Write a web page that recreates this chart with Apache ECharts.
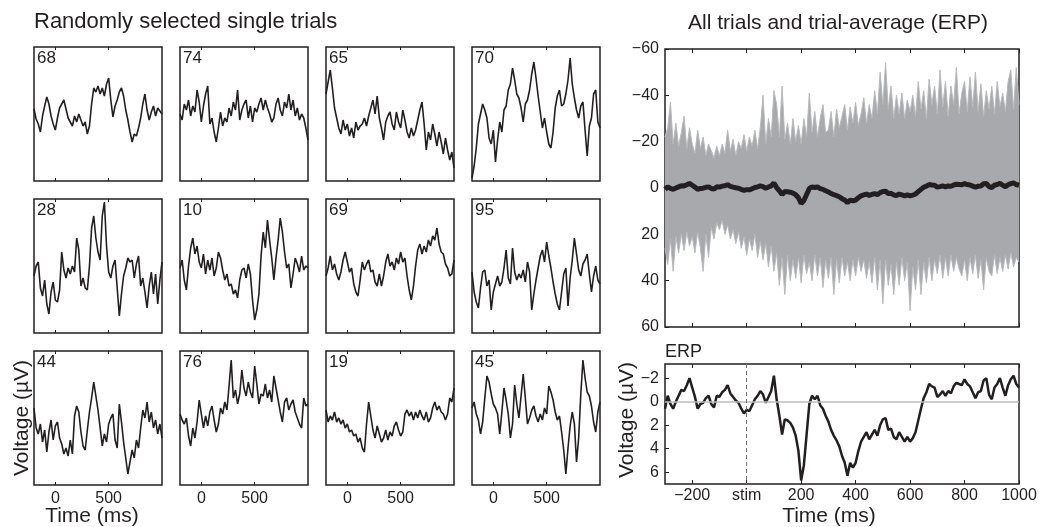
<!DOCTYPE html>
<html>
<head>
<meta charset="utf-8">
<script src="https://cdn.jsdelivr.net/npm/echarts@6/dist/echarts.min.js"></script>
<style>
  html, body { margin: 0; padding: 0; background: #fff; }
  #chart { width: 1043px; height: 527px; }
</style>
</head>
<body>
<div id="chart"></div>
<script>
// ---- single trials (µV), sampled every 20 ms from -200 ms ----
const trialStart = -200;
const trialStep = 20;

const trial68 = [-5,5,10,18,2,-8,-17,-10,2,10, 16,4,-6,-10,-14,-5,4,8,12,2, 8,0,6,12,8,20,12,-10,-26,-22,
  -28,-20,-26,-18,-30,-36,-14,3,-8,-14, -22,-26,-18,-4,6,18,28,20,22,14, 4,-10,-20,-4,6,-2,-8,2,-6,-3, 0];
const trial74 = [0,6,-10,-4,-14,2,-8,-2,-24,-12, 8,-8,-20,-28,10,4,18,28,14,-2, 12,4,8,-6,2,-12,-4,-24,6,-4,
  -10,-14,4,-8,8,-6,-2,-10,-16,-4, -14,-6,0,8,4,-10,-16,-4,2,-12, -6,-20,-4,-14,2,-6,6,0,4,14, 26];
const trial65 = [-20,-32,-44,-26,-6,4,14,20,6,16, 10,22,14,24,8,16,12,10,4,12, 2,-6,-14,0,-18,4,14,26,8,2,
  -2,10,16,-2,8,14,-4,6,18,24, 14,22,16,6,-4,-12,10,36,18,26, 10,20,32,18,28,40,24,36,46,38, 54];
const trial70 = [64,52,34,10,0,-10,-4,4,24,30, 16,48,26,8,18,-4,-8,-24,-30,-46, -34,-20,-16,-6,8,-10,-14,-24,-40,-52,
  -36,-18,-2,14,4,18,30,34,18,-6, -18,-24,-8,-10,-20,-34,-56,-30,-16,-4, 4,-8,-12,16,42,12,4,-20,-24,8, 14];
const trial28 = [10,0,-4,22,30,14,38,48,26,16, 34,36,24,-14,4,12,2,8,0,6, -28,-16,20,12,22,24,0,-38,-50,-28,
  -14,-6,-50,-64,-20,6,12,0,-6,22, 50,28,10,2,-8,-4,-6,12,-2,-10, 20,12,26,42,20,6,28,8,38,14, -4];
const trial10 = [2,-6,14,24,0,-18,-28,-12,-20,-4, 2,-12,8,-6,4,-8,10,2,-14,-8, 4,14,8,20,18,28,24,32,14,4,
  2,12,-2,8,34,54,44,28,-10,-34, -18,-46,-26,-8,14,-8,-26,-48,-34,-14, 2,-2,22,8,-8,-2,6,-10,4,0, 2];
const trial69 = [10,2,-10,4,-2,8,14,6,-6,-14, -4,6,2,18,26,30,14,-4,4,-2, -6,6,4,16,20,8,20,10,-4,-12,
  0,-4,4,-8,-2,-14,-4,-8,10,24, 34,20,0,-16,-22,-12,-20,-14,-26,-20, -30,-26,-38,-22,-14,-12,-2,2,10,8, -6];
const trial95 = [6,26,36,42,22,6,4,20,14,44, 26,18,10,20,16,2,-16,12,18,-18, 6,14,8,12,4,16,-4,6,44,28,
  14,2,-10,-16,-4,-24,-10,2,16,28, 38,44,26,8,2,40,12,-6,-28,-12, 4,10,-2,-6,-12,8,26,10,0,14, 18];
const trial44 = [-10,10,16,6,24,12,34,14,2,22, 8,4,20,26,36,30,38,22,36,-2, -12,-6,14,28,32,12,-6,-20,-36,-22,
  -8,10,28,16,24,6,0,-4,22,30, -14,4,24,40,56,44,32,40,22,30, 10,-8,0,-16,4,-6,10,2,16,6, 20];
const trial76 = [-4,2,6,0,18,28,10,20,4,-18, -4,10,-2,8,-6,-12,2,14,6,-10, -4,-16,-8,-32,-58,-20,-28,-14,-24,-48,
  -30,-22,-36,-26,-20,-52,-34,-14,-24,-22, -34,-20,-28,-16,-42,-30,-18,-6,4,-16, -20,-8,-14,-18,-6,0,6,10,-20,-12, -14];
const trial19 = [-8,4,-2,2,-6,4,0,6,2,10, 6,14,12,18,16,24,20,30,34,6, -16,-2,12,20,8,16,24,20,12,22,
  14,18,8,4,12,18,14,-4,-8,-2, -6,2,-6,0,-8,-2,2,-6,4,0, -10,-16,-8,-12,-6,-4,2,-4,-20,-16, -30];
const trial45 = [-10,-16,-4,2,16,4,-20,-42,-36,-24, -14,-10,-4,16,-6,-30,-18,-4,20,6, -33,-14,0,-22,-44,-20,6,0,-8,-12,
  -2,4,-4,2,-10,-4,-32,-26,-18,-6, 2,-2,14,32,56,30,8,-6,6,44, 20,-24,-58,-40,-26,-22,-12,4,14,-6, -16];

const trialLabels = ['68','74','65','70','28','10','69','95','44','76','19','45'];
const trialValues = [trial68, trial74, trial65, trial70, trial28, trial10, trial69, trial95, trial44, trial76, trial19, trial45];
const trialTickValues = [0, 500];

// ---- trial average and spread of all trials (µV), every 10 ms from -300 ms ----
const erpStart = -300;
const erpStep = 10;

const erpAverage = [
  0.6,-0.5,0.2,0.6,0.0,-0.5,-1.0,-0.9,-1.4,-2.0,
  -1.2,-0.4,0.6,0.2,0.1,-0.3,-0.5,0.2,0.5,-0.5,
  -0.4,-0.8,-1.0,-1.4,-0.7,-0.4,-0.1,0.1,0.6,1.0,
  0.7,0.8,0.3,-0.2,-0.5,-0.9,-0.6,0.1,-0.4,-0.9,
  -2.2,-0.2,1.2,2.8,1.5,1.6,1.8,2.2,2.9,4.2,
  6.7,5.4,2.8,0.2,-0.5,-0.2,-0.5,0.3,0.6,1.2,
  1.7,2.4,2.9,3.3,3.8,4.6,5.2,6.3,5.2,5.6,
  5.2,4.2,3.4,3.0,2.6,3.2,2.8,2.4,2.9,2.0,
  1.5,1.4,2.4,2.3,3.0,3.2,2.6,3.0,3.4,3.0,
  3.4,3.1,2.6,1.6,0.6,-0.3,-0.8,-1.5,-1.3,-1.2,
  -0.4,-0.6,-0.9,-0.5,-0.9,-0.7,-1.3,-1.6,-1.5,-1.4,
  -1.9,-1.5,-1.3,-0.8,-0.3,-0.8,-0.9,-1.8,-2.0,-0.6,
  -0.2,-1.2,-1.5,-2.0,-1.2,-0.5,-1.4,-1.9,-2.2,-1.5,
  -1.2];

// most negative value over all trials at each time
const trialsUpper = [
  -22,-26,-37,-19,-28,-18,-24,-31,-17,-26,
  -19,-15,-25,-17,-22,-14,-19,-16,-13,-18,
  -14,-19,-15,-25,-16,-21,-14,-20,-17,-23,
  -16,-22,-18,-25,-17,-26,-40,-19,-30,-22,
  -42,-36,-22,-44,-21,-28,-19,-30,-20,-27,
  -19,-30,-22,-41,-24,-33,-22,-30,-36,-24,
  -25,-33,-22,-34,-26,-31,-36,-25,-35,-28,
  -37,-27,-32,-39,-28,-36,-30,-42,-32,-50,
  -36,-54,-34,-44,-30,-40,-32,-41,-30,-38,
  -33,-40,-31,-46,-34,-42,-30,-47,-36,-44,
  -32,-51,-35,-46,-31,-44,-36,-52,-32,-41,
  -46,-33,-48,-35,-50,-33,-45,-31,-42,-34,
  -44,-32,-46,-35,-41,-33,-46,-51,-34,-52,
  -36];

// most positive value over all trials at each time
const trialsLower = [
  26,33,22,36,21,28,20,27,19,25,
  21,28,19,26,36,20,30,17,22,15,
  18,14,20,16,22,18,24,19,26,21,
  29,22,27,20,30,23,31,24,34,25,
  36,28,42,30,46,29,40,31,39,30,
  41,29,37,32,40,29,38,30,43,31,
  39,30,46,31,41,30,38,32,40,31,
  38,30,36,31,39,32,41,30,44,31,
  50,31,42,33,46,32,42,30,40,32,
  53,34,44,31,46,32,41,30,40,31,
  37,29,39,30,38,29,36,30,35,38,
  31,40,30,37,29,39,31,44,30,36,
  38,29,37,30,36,29,35,28,34,30,
  32];

const erpTimeTicks = [-200, 0, 200, 400, 600, 800, 1000];
const erpTimeLabels = ['\u2212200', 'stim', '200', '400', '600', '800', '1000'];
const erpVoltTicks = [-2, 0, 2, 4, 6];

// ---- drawing ----
const INK = '#231f20';
const BAND = '#a7a9ac';
const FONT = '"Liberation Sans", Arial, Helvetica, sans-serif';
const minus = v => (v < 0 ? '\u2212' + (-v) : String(v));

const panelLeft = [34, 180, 326, 472];
const panelTop = [47, 199, 351];
const PW = 128, PH = 134;

const grids = [], xAxes = [], yAxes = [], series = [], graphics = [];

const tickStyle = { color: INK, width: 1 };
const noLine = { show: false, onZero: false };

trialValues.forEach((vals, i) => {
  const row = Math.floor(i / 4), col = i % 4;
  grids.push({ left: panelLeft[col], top: panelTop[row], width: PW, height: PH,
    show: true, borderColor: INK, borderWidth: 1.5 });
  const xi = xAxes.length;
  const base = { type: 'value', gridIndex: i, min: -200, max: 1000,
    splitLine: { show: false }, axisLine: noLine };
  xAxes.push(Object.assign({}, base, { position: 'bottom',
    axisTick: { show: true, inside: true, length: 3, customValues: trialTickValues, lineStyle: tickStyle },
    axisLabel: { show: row === 2, customValues: trialTickValues, color: INK, fontSize: 16,
      fontFamily: FONT, margin: 6 } }));
  xAxes.push(Object.assign({}, base, { position: 'top',
    axisTick: { show: true, inside: true, length: 3, customValues: trialTickValues, lineStyle: tickStyle },
    axisLabel: { show: false } }));
  yAxes.push({ type: 'value', gridIndex: i, min: -67, max: 67, inverse: true, show: false, axisLine: noLine });
  series.push({ type: 'line', xAxisIndex: xi, yAxisIndex: i, symbol: 'none', silent: true,
    data: vals.map((v, k) => [trialStart + k * trialStep, v]),
    lineStyle: { color: INK, width: 1.6 } });
  graphics.push({ type: 'text', x: panelLeft[col] + 3, y: panelTop[row] + 11,
    style: { text: trialLabels[i], font: '17px ' + FONT, fill: INK, textVerticalAlign: 'middle' } });
});

// all trials + average
const gAll = grids.length;
grids.push({ left: 665, top: 49, width: 354, height: 278, show: true, borderColor: INK, borderWidth: 1.5 });
const xAllBottom = xAxes.length;
const erpX = { type: 'value', min: -300, max: 1000, splitLine: { show: false }, axisLine: noLine };
xAxes.push(Object.assign({}, erpX, { gridIndex: gAll, position: 'bottom',
  axisTick: { show: true, inside: true, length: 4, customValues: erpTimeTicks, lineStyle: tickStyle },
  axisLabel: { show: false } }));
xAxes.push(Object.assign({}, erpX, { gridIndex: gAll, position: 'top',
  axisTick: { show: true, inside: true, length: 4, customValues: erpTimeTicks, lineStyle: tickStyle },
  axisLabel: { show: false } }));
const yAll = yAxes.length;
yAxes.push({ type: 'value', gridIndex: gAll, min: -60, max: 60, interval: 20, inverse: true,
  splitLine: { show: false }, axisLine: noLine,
  axisTick: { show: true, inside: true, length: 4, lineStyle: tickStyle },
  axisLabel: { color: INK, fontSize: 16, fontFamily: FONT, margin: 6, formatter: minus } });

const erpTime = k => erpStart + k * erpStep;
// the spread of all trials: each edge filled back to 0 µV
[trialsUpper, trialsLower].forEach(edge => {
  series.push({ type: 'line', xAxisIndex: xAllBottom, yAxisIndex: yAll, symbol: 'none', silent: true, z: 1,
    data: edge.map((v, k) => [erpTime(k), v]),
    lineStyle: { color: '#b9babc', width: 1 },
    areaStyle: { color: BAND, opacity: 1, origin: 0 } });
});
series.push({ type: 'line', xAxisIndex: xAllBottom, yAxisIndex: yAll, symbol: 'none', silent: true, z: 3,
  data: erpAverage.map((v, k) => [erpTime(k), v]),
  lineStyle: { color: INK, width: 5 } });

// ERP close-up
const gErp = grids.length;
grids.push({ left: 665, top: 364, width: 354, height: 120, show: true, borderColor: INK, borderWidth: 1.5 });
const xErp = xAxes.length;
xAxes.push(Object.assign({}, erpX, { gridIndex: gErp, position: 'bottom',
  axisTick: { show: true, inside: true, length: 4, customValues: erpTimeTicks, lineStyle: tickStyle },
  axisLabel: { customValues: erpTimeTicks, color: INK, fontSize: 16, fontFamily: FONT, margin: 4,
    formatter: v => erpTimeLabels[erpTimeTicks.indexOf(v)] } }));
xAxes.push(Object.assign({}, erpX, { gridIndex: gErp, position: 'top',
  axisTick: { show: true, inside: true, length: 4, customValues: erpTimeTicks, lineStyle: tickStyle },
  axisLabel: { show: false } }));
const yErp = yAxes.length;
yAxes.push({ type: 'value', gridIndex: gErp, min: -3.2, max: 7, inverse: true,
  splitLine: { show: false }, axisLine: noLine,
  axisTick: { show: true, inside: true, length: 4, customValues: erpVoltTicks, lineStyle: tickStyle },
  axisLabel: { customValues: erpVoltTicks, color: INK, fontSize: 16, fontFamily: FONT, margin: 6, formatter: minus } });

series.push({ type: 'line', xAxisIndex: xErp, yAxisIndex: yErp, data: [], silent: true, z: 1,
  markLine: { silent: true, symbol: 'none', label: { show: false }, animation: false,
    data: [
      { yAxis: 0, lineStyle: { color: '#bcbcbc', type: 'solid', width: 1.5 } },
      { xAxis: 0, lineStyle: { color: '#6f6f6f', type: [4, 3], width: 1 } }
    ] } });
series.push({ type: 'line', xAxisIndex: xErp, yAxisIndex: yErp, symbol: 'none', silent: true, z: 3,
  data: erpAverage.map((v, k) => [erpTime(k), v]),
  lineStyle: { color: INK, width: 2.5 } });

// titles and axis names
const txt = (x, y, text, size, extra) => Object.assign({ type: 'text', x: x, y: y,
  style: Object.assign({ text: text, font: size + 'px ' + FONT, fill: INK,
    textAlign: 'center', textVerticalAlign: 'middle' }, extra && extra.style) }, extra && extra.el);

graphics.push(txt(34, 22, 'Randomly selected single trials', 22, { style: { textAlign: 'left' } }));
graphics.push(txt(838, 23, 'All trials and trial-average (ERP)', 21));
graphics.push(txt(665, 352, 'ERP', 18, { style: { textAlign: 'left' } }));
graphics.push(txt(92, 516, 'Time (ms)', 21));
graphics.push(txt(829, 516, 'Time (ms)', 21));
graphics.push(txt(22, 418, 'Voltage (\u00b5V)', 21, { el: { rotation: Math.PI / 2 } }));
graphics.push(txt(627, 420, 'Voltage (\u00b5V)', 21, { el: { rotation: Math.PI / 2 } }));

const chart = echarts.init(document.getElementById('chart'));
chart.setOption({
  animation: false,
  backgroundColor: '#fff',
  textStyle: { fontFamily: FONT },
  grid: grids,
  xAxis: xAxes,
  yAxis: yAxes,
  series: series,
  graphic: graphics
});
</script>
</body>
</html>
